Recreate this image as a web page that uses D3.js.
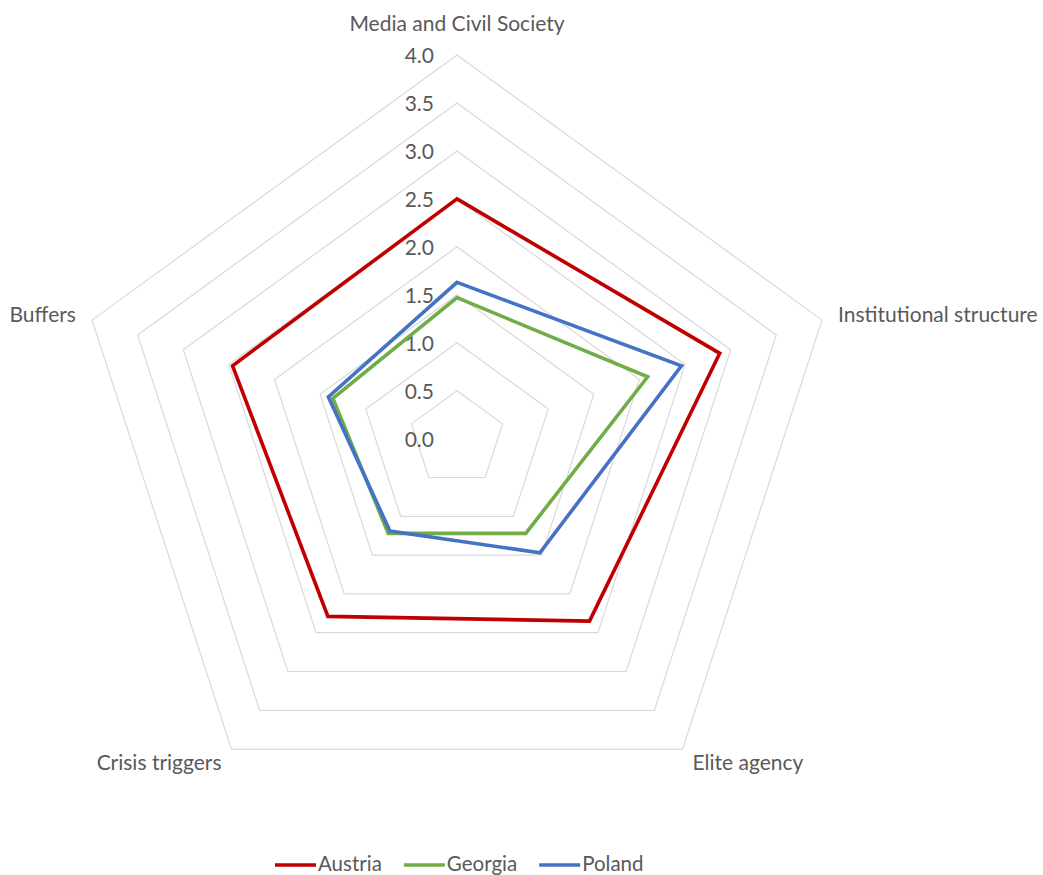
<!DOCTYPE html>
<html>
<head>
<meta charset="utf-8">
<script src="https://cdn.jsdelivr.net/npm/d3@7"></script>
<style>
  html, body { margin: 0; padding: 0; background: #fff; }
  svg { display: block; }
  text { font-family: Lato, "Open Sans", sans-serif; fill: #595959; }
</style>
</head>
<body>
<svg id="chart" width="1043" height="875"></svg>
<script>
// Dimensions of the radar, clockwise from the top
const axes = ["Media and Civil Society", "Institutional structure", "Elite agency", "Crisis triggers", "Buffers"];

// Scores per country, in the order of the axes above
const austria = [2.50, 2.88, 2.35, 2.29, 2.46];
const georgia = [1.47, 2.09, 1.22, 1.22, 1.36];
const poland  = [1.63, 2.46, 1.47, 1.19, 1.41];

const seriesNames = ["Austria", "Georgia", "Poland"];
const seriesColors = ["#c00000", "#70ad47", "#4472c4"];

// Grid rings and their labels
const ringValues = [0.5, 1.0, 1.5, 2.0, 2.5, 3.0, 3.5, 4.0];
const tickLabels = ["0.0", "0.5", "1.0", "1.5", "2.0", "2.5", "3.0", "3.5", "4.0"];

const svg = d3.select("#chart");
const cx = 457, cy = 438.7, R = 383.7;

const r = d3.scaleLinear().domain([0, 4]).range([0, R]);
const angle = d3.scaleLinear().domain([0, axes.length]).range([0, 2 * Math.PI]);

const radial = d3.lineRadial()
  .angle((d, i) => angle(i))
  .radius(d => r(d))
  .curve(d3.curveLinearClosed);

const g = svg.append("g").attr("transform", `translate(${cx},${cy})`);

// Pentagon grid
g.selectAll("path.ring")
  .data(ringValues)
  .join("path")
  .attr("class", "ring")
  .attr("d", v => radial(axes.map(() => v)))
  .attr("fill", "none")
  .attr("stroke", "#d9d9d9")
  .attr("stroke-width", 1.2);

// Value labels along the vertical axis
g.selectAll("text.tick")
  .data(tickLabels)
  .join("text")
  .attr("class", "tick")
  .attr("x", -23)
  .attr("y", d => -r(+d) + 3)
  .attr("text-anchor", "end")
  .attr("dominant-baseline", "middle")
  .style("font-size", "21px")
  .text(d => d);

// Series outlines
const series = [austria, georgia, poland];
g.selectAll("path.series")
  .data(series)
  .join("path")
  .attr("class", "series")
  .attr("d", d => radial(d))
  .attr("fill", "none")
  .attr("stroke", (d, i) => seriesColors[i])
  .attr("stroke-width", 3.6)
  .attr("stroke-linejoin", "miter");

// Axis names outside the outer ring
g.selectAll("text.axis")
  .data(axes)
  .join("text")
  .attr("class", "axis")
  .each(function (name, i) {
    const a = angle(i);
    const sx = Math.sin(a), sy = -Math.cos(a);
    const off = i === 0 ? 31 : 17;
    const x = (R + off) * sx, y = (R + off) * sy + 2;
    d3.select(this)
      .attr("x", x)
      .attr("y", y)
      .attr("text-anchor", Math.abs(sx) < 0.01 ? "middle" : (sx > 0 ? "start" : "end"))
      .attr("dominant-baseline", "middle");
  })
  .style("font-size", "21px")
  .text(d => d);

// Legend
const legend = svg.append("g").attr("transform", "translate(0,865)");
let lx = 275;
seriesNames.forEach((name, i) => {
  const item = legend.append("g").attr("transform", `translate(${lx},0)`);
  item.append("line")
    .attr("x1", 0).attr("x2", 41)
    .attr("y1", 0).attr("y2", 0)
    .attr("stroke", seriesColors[i])
    .attr("stroke-width", 3.6);
  const t = item.append("text")
    .attr("x", 43)
    .attr("y", 1)
    .attr("dominant-baseline", "middle")
    .style("font-size", "20.5px")
    .text(name);
  lx += 43 + t.node().getComputedTextLength() + 22;
});
</script>
</body>
</html>
